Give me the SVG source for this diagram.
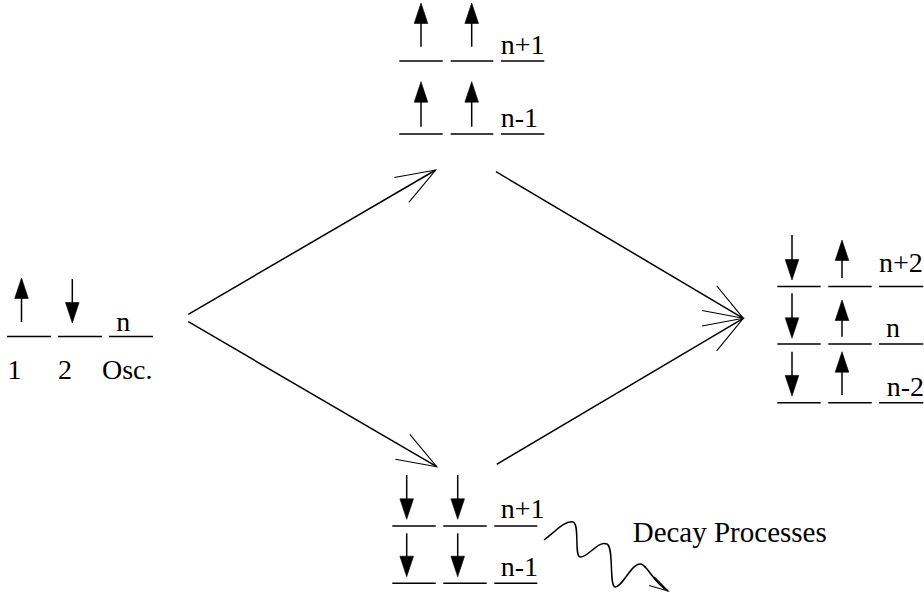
<svg xmlns="http://www.w3.org/2000/svg" width="924" height="594" viewBox="0 0 924 594">
  <style>
    text { font-family: "Liberation Serif", "Times New Roman", serif; font-size: 28px; fill: #000; }
    .big { font-size: 29px; }
    .level { stroke: #000; stroke-width: 1.5; fill: none; }
    .shaft { stroke: #000; stroke-width: 1.5; fill: none; }
    .head { fill: #000; stroke: #000; stroke-width: 0.6; stroke-linejoin: miter; }
    .conn { stroke: #000; stroke-width: 1.5; fill: none; }
  </style>
  <defs>
    <!-- open arrowheads for the transition connectors -->
    <marker id="open-head" markerUnits="userSpaceOnUse" orient="auto" markerWidth="50" markerHeight="40" viewBox="-45 -20 50 40" refX="0" refY="0" overflow="visible">
      <path d="M -39.5,-14.4 L 0,0 L -39.5,14.4" fill="none" stroke="#000" stroke-width="1.1"/>
    </marker>
    <marker id="wave-head" markerUnits="userSpaceOnUse" orient="auto" markerWidth="30" markerHeight="20" viewBox="-25 -10 30 20" refX="0" refY="0" overflow="visible">
      <path d="M -19,-5 L 0,0 L -19,5" fill="none" stroke="#000" stroke-width="1.1"/>
    </marker>
    <!-- spin arrows: filled heads -->
    <path id="up-head" d="M 0,0 L 6.8,20.5 L -6.8,20.5 Z"/>
    <path id="down-head" d="M 0,0 L 6.8,-20.5 L -6.8,-20.5 Z"/>
  </defs>

  <!-- initial state: spin 1 up, spin 2 down, oscillator n -->
  <g id="node-initial">
    <line class="shaft" x1="21.5" y1="296" x2="21.5" y2="322"/>
    <use href="#up-head" class="head" x="21.5" y="278"/>
    <line class="shaft" x1="72.3" y1="279" x2="72.3" y2="305"/>
    <use href="#down-head" class="head" x="72.3" y="323"/>
    <line class="level" x1="7" y1="336.5" x2="51" y2="336.5"/>
    <line class="level" x1="58" y1="336.5" x2="102" y2="336.5"/>
    <line class="level" x1="109" y1="336.5" x2="153" y2="336.5"/>
    <text x="123.3" y="330.7" text-anchor="middle">n</text>
    <text x="14.5" y="379" text-anchor="middle">1</text>
    <text x="65" y="379" text-anchor="middle">2</text>
    <text x="102" y="379">Osc.</text>
  </g>

  <!-- upper intermediate: both spins up -->
  <g id="node-upper">
    <line class="shaft" x1="421" y1="21" x2="421" y2="46.7"/>
    <use href="#up-head" class="head" x="421" y="3"/>
    <line class="shaft" x1="471.7" y1="21" x2="471.7" y2="46.7"/>
    <use href="#up-head" class="head" x="471.7" y="3"/>
    <line class="level" x1="399.3" y1="61" x2="442.7" y2="61"/>
    <line class="level" x1="450.7" y1="61" x2="493.3" y2="61"/>
    <line class="level" x1="501" y1="61" x2="544.3" y2="61"/>
    <text x="500.7" y="54.3">n+1</text>

    <line class="shaft" x1="421" y1="100" x2="421" y2="126.7"/>
    <use href="#up-head" class="head" x="421" y="81.7"/>
    <line class="shaft" x1="471.7" y1="100" x2="471.7" y2="126.7"/>
    <use href="#up-head" class="head" x="471.7" y="81.7"/>
    <line class="level" x1="399.3" y1="134" x2="442.7" y2="134"/>
    <line class="level" x1="450.7" y1="134" x2="493.3" y2="134"/>
    <line class="level" x1="501" y1="134" x2="544.3" y2="134"/>
    <text x="500.7" y="126.7">n-1</text>
  </g>

  <!-- lower intermediate: both spins down -->
  <g id="node-lower">
    <line class="shaft" x1="406.7" y1="475" x2="406.7" y2="501"/>
    <use href="#down-head" class="head" x="406.7" y="519.3"/>
    <line class="shaft" x1="457.7" y1="475" x2="457.7" y2="501"/>
    <use href="#down-head" class="head" x="457.7" y="519.3"/>
    <line class="level" x1="392.3" y1="526" x2="435.7" y2="526"/>
    <line class="level" x1="443.3" y1="526" x2="486.7" y2="526"/>
    <line class="level" x1="494.3" y1="526" x2="537.3" y2="526"/>
    <text x="500.7" y="518.3">n+1</text>

    <line class="shaft" x1="406.7" y1="533.3" x2="406.7" y2="558"/>
    <use href="#down-head" class="head" x="406.7" y="576.7"/>
    <line class="shaft" x1="457.7" y1="533.3" x2="457.7" y2="558"/>
    <use href="#down-head" class="head" x="457.7" y="576.7"/>
    <line class="level" x1="392.3" y1="583.3" x2="435.7" y2="583.3"/>
    <line class="level" x1="443.3" y1="583.3" x2="486.7" y2="583.3"/>
    <line class="level" x1="494.3" y1="583.3" x2="537.3" y2="583.3"/>
    <text x="500.7" y="576">n-1</text>
  </g>

  <!-- final state: spin 1 down, spin 2 up, oscillator n+2 / n / n-2 -->
  <g id="node-final">
    <line class="shaft" x1="792" y1="235" x2="792" y2="261"/>
    <use href="#down-head" class="head" x="792" y="280"/>
    <line class="shaft" x1="842" y1="259" x2="842" y2="278"/>
    <use href="#up-head" class="head" x="842" y="240"/>
    <line class="level" x1="777.3" y1="286.5" x2="820.7" y2="286.5"/>
    <line class="level" x1="828.3" y1="286.5" x2="871.7" y2="286.5"/>
    <line class="level" x1="879" y1="286.5" x2="923.3" y2="286.5"/>
    <text x="879" y="271.7">n+2</text>

    <line class="shaft" x1="792" y1="293.3" x2="792" y2="319"/>
    <use href="#down-head" class="head" x="792" y="338.3"/>
    <line class="shaft" x1="842" y1="319" x2="842" y2="336.7"/>
    <use href="#up-head" class="head" x="842" y="300"/>
    <line class="level" x1="777.3" y1="344" x2="820.7" y2="344"/>
    <line class="level" x1="828.3" y1="344" x2="871.7" y2="344"/>
    <line class="level" x1="879" y1="344" x2="923.3" y2="344"/>
    <text x="886" y="336.7">n</text>

    <line class="shaft" x1="792" y1="351.7" x2="792" y2="377"/>
    <use href="#down-head" class="head" x="792" y="396"/>
    <line class="shaft" x1="842" y1="370" x2="842" y2="395"/>
    <use href="#up-head" class="head" x="842" y="351.7"/>
    <line class="level" x1="777.3" y1="402.7" x2="820.7" y2="402.7"/>
    <line class="level" x1="828.3" y1="402.7" x2="871.7" y2="402.7"/>
    <line class="level" x1="879" y1="402.7" x2="923.3" y2="402.7"/>
    <text x="886.7" y="396">n-2</text>
  </g>

  <!-- decay label -->
  <g id="node-decay">
    <text class="big" x="632.7" y="541.5">Decay Processes</text>
  </g>

  <!-- transitions -->
  <g id="connectors">
    <line class="conn" x1="188.3" y1="314.3" x2="435.7" y2="170" marker-end="url(#open-head)"/>
    <line class="conn" x1="188.3" y1="321.7" x2="436.7" y2="466.7" marker-end="url(#open-head)"/>
    <line class="conn" x1="496" y1="171.7" x2="743.3" y2="318.3" marker-end="url(#open-head)"/>
    <line class="conn" x1="496.7" y1="464.3" x2="743.3" y2="318.3" marker-end="url(#open-head)"/>
    <path class="conn" d="M 544,540 C 555,532 565,520 573,522 C 580,524 574,556 580,557 C 588,558 598,540 607,544 C 614,547 609,586 615,587 C 622,588 632,562 641,564 C 648,566 653,582 668,591" marker-end="url(#wave-head)"/>
  </g>
</svg>
